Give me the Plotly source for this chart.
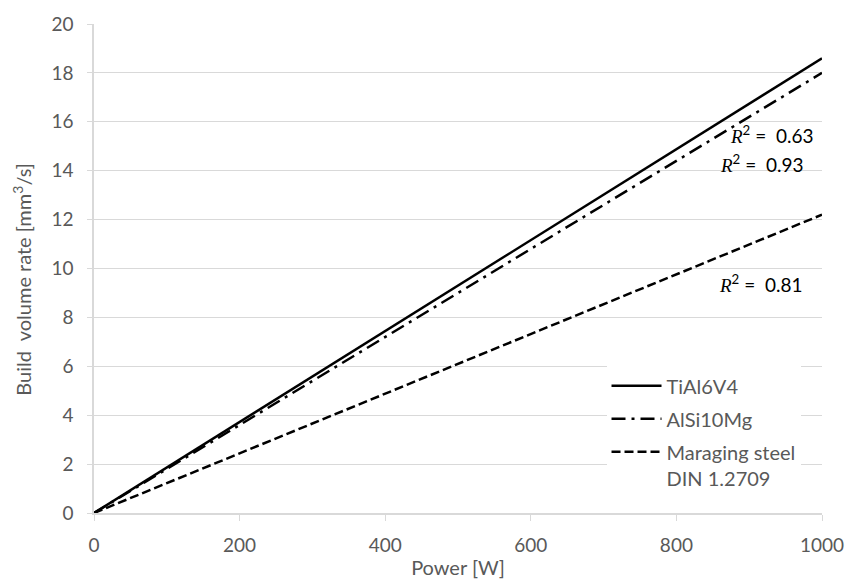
import plotly.graph_objects as go

power = [0, 1000]
tial6v4 = [0, 18.6]
alsi10mg = [0, 18.0]
maraging = [0, 12.2]
series_names = ["TiAl6V4", "AlSi10Mg", "Maraging steel<br>DIN 1.2709"]
r2_labels = ["0.63", "0.93", "0.81"]
r2_pos = [(930, 15.5), (917, 14.3), (915, 9.4)]

gray = "#595959"
grid = "#d9d9d9"
fnt = "Lato, 'Open Sans', sans-serif"

fig = go.Figure()
for name, ys, dash, g in [(series_names[0], tial6v4, "solid", "a"),
                          (series_names[1], alsi10mg, "14px,6px,3px,6px", "b"),
                          (series_names[2], maraging, "9px,4px", "c")]:
    fig.add_trace(go.Scatter(x=power, y=ys, mode="lines", name=name, legendgroup=g,
                             line=dict(color="black", width=2.5, dash=dash)))

for lab, (px, py) in zip(r2_labels, r2_pos):
    fig.add_annotation(x=px, y=py, xref="x", yref="y", showarrow=False,
                       text=("<i><span style=\"font-family:'Liberation Serif'\">R</span></i>"
                             f"<sup>2</sup> =  {lab}"),
                       font=dict(family=fnt, size=19, color="black"),
                       xanchor="center", yanchor="middle")

fig.add_annotation(x=(22 - 94) / 726, y=(513 - 276) / 495, xref="paper", yref="paper",
                   showarrow=False, textangle=-90,
                   text="Build  volume rate [mm<sup>3</sup>/s]",
                   font=dict(family=fnt, size=20, color=gray),
                   xanchor="center", yanchor="middle")

fig.update_layout(
    width=856, height=588,
    margin=dict(l=94, r=34, t=18, b=75),
    plot_bgcolor="white", paper_bgcolor="white",
    font=dict(family=fnt, size=19, color=gray),
    legend=dict(x=0.704, y=0.30, xanchor="left", yanchor="top",
                bgcolor="white", font=dict(size=20, color=gray),
                tracegroupgap=4, valign="top", itemwidth=50),
    xaxis=dict(range=[0, 1000], dtick=200, showgrid=False, showline=True,
               linecolor=grid, linewidth=1.5, ticks="outside", ticklen=6,
               tickcolor=grid, zeroline=False, ticklabelstandoff=8,
               title=dict(text="Power [W]", font=dict(size=20, color=gray), standoff=6)),
    yaxis=dict(range=[0, 20], dtick=2, showgrid=True, gridcolor=grid, gridwidth=1,
               showline=True, linecolor=grid, linewidth=1.5, ticks="outside",
               ticklen=5, tickcolor=grid, zeroline=False, ticklabelstandoff=10),
)
fig.write_html("out.html")
